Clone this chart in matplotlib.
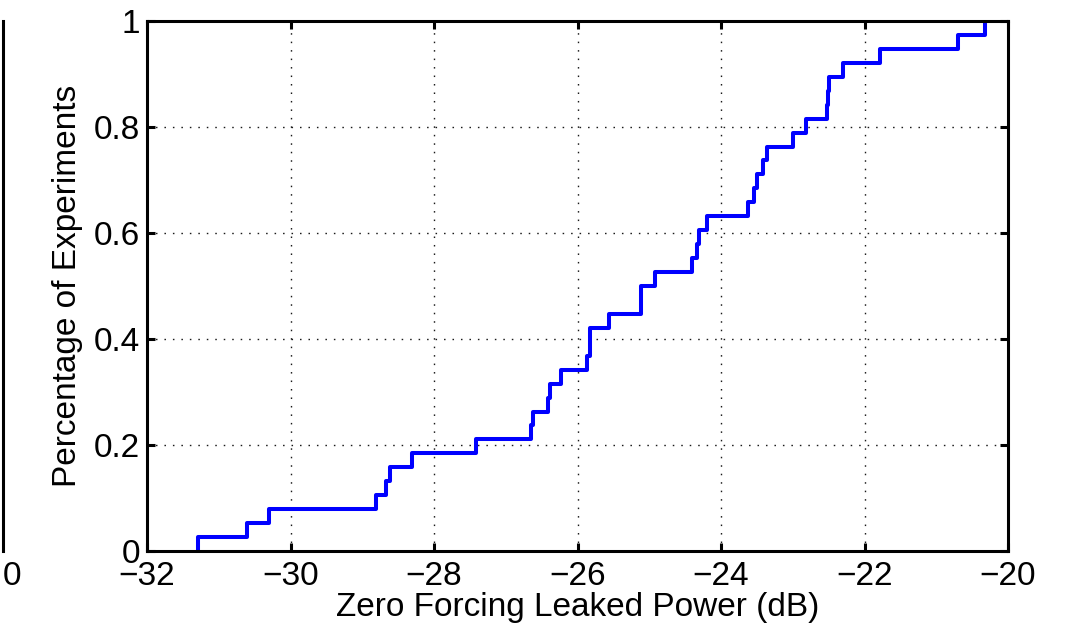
import numpy as np
import matplotlib
matplotlib.use('Agg')
import matplotlib.pyplot as plt

plt.rcParams['font.family'] = ['Liberation Sans', 'DejaVu Sans']
plt.rcParams['font.size'] = 24

leaked_db = [-31.29, -30.61, -30.30, -28.81, -28.67, -28.62, -28.31, -27.41,
             -26.65, -26.62, -26.41, -26.39, -26.23, -25.87, -25.83, -25.82,
             -25.56, -25.12, -25.11, -24.92, -24.40, -24.33, -24.31, -24.19,
             -23.62, -23.54, -23.50, -23.41, -23.36, -23.00, -22.81, -22.52,
             -22.51, -22.50, -22.30, -21.79, -20.70, -20.32]
xticks = [-32, -30, -28, -26, -24, -22, -20]
yticks = [0, 0.2, 0.4, 0.6, 0.8, 1]
ytick_labels = ['0', '0.2', '0.4', '0.6', '0.8', '1']

W, H = 1066, 634
fig = plt.figure(figsize=(W / 100, H / 100), dpi=100)

ax_l, ax_r, ax_t, ax_b = 147, 1008, 21, 551
ax = fig.add_axes([ax_l / W, 1 - ax_b / H, (ax_r - ax_l) / W, (ax_b - ax_t) / H])

data = np.sort(np.array(leaked_db))
n = len(data)
cdf = np.arange(1, n + 1) / n
ax.step(np.r_[data[0], data], np.r_[0, cdf], where='post', color='#0000ff', lw=2.9)

ax.set_xlim(-32, -20)
ax.set_ylim(0, 1)
ax.set_xticks(xticks)
ax.set_xticklabels([str(t).replace('-', '\u2212') for t in xticks])
ax.set_yticks(yticks)
ax.set_yticklabels(ytick_labels)
ax.grid(True, color='0.1', linestyle=(0, (1.1, 5)), lw=1.0)
ax.tick_params(direction='in', length=6, width=2.2, top=True, right=True)
ax.tick_params(axis='x', pad=7)
ax.tick_params(axis='y', pad=5)
for s in ax.spines.values():
    s.set_linewidth(2.2)
ax.set_xlabel('Zero Forcing Leaked Power (dB)', labelpad=0)
ax.set_ylabel('Percentage of Experiments', labelpad=8)

# edge of neighbouring subplot, cropped at the left
ax0 = fig.add_axes([-0.3, 1 - ax_b / H, 0.3 + 3 / W, (ax_b - ax_t) / H])
ax0.set_xlim(0, 1)
ax0.set_ylim(0, 1)
for k in ['left', 'top', 'bottom']:
    ax0.spines[k].set_visible(False)
ax0.spines['right'].set_linewidth(2.2)
ax0.set_yticks([])
ax0.set_xticks([1])
ax0.set_xticklabels(['0'], ha='left')
ax0.tick_params(direction='in', length=0, pad=7)

fig.savefig('out.png', dpi=100)
